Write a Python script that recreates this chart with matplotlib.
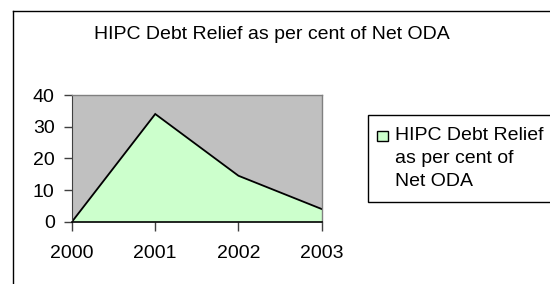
import matplotlib
matplotlib.use("Agg")
import matplotlib.pyplot as plt
from matplotlib.patches import Rectangle
from matplotlib.lines import Line2D

years = ["2000", "2001", "2002", "2003"]
values = [0, 34, 14.5, 4]
yticks = [0, 10, 20, 30, 40]
title = "HIPC Debt Relief as per cent of Net ODA"
legend_lines = ["HIPC Debt Relief", "as per cent of", "Net ODA"]

W, H = 550, 284
plt.rcParams['font.family'] = ['Liberation Sans', 'DejaVu Sans']
fig = plt.figure(figsize=(W / 100, H / 100), dpi=100)

def fx(x):
    return x / W

def fy(y):
    return 1 - y / H

# outer chart border (left and top visible)
fig.add_artist(Line2D([fx(13), fx(13)], [fy(11), fy(290)], color='black', lw=1))
fig.add_artist(Line2D([fx(13), fx(560)], [fy(11), fy(11)], color='black', lw=1))

left, right, top, bottom = 72, 321.7, 95, 221.7
ax = fig.add_axes([fx(left), fy(bottom), fx(right - left), (bottom - top) / H])
ax.set_facecolor('#C0C0C0')
x = list(range(len(years)))
ax.fill_between(x, values, 0, color='#CCFFCC', lw=0)
ax.plot(x, values, color='black', lw=1.3, solid_joinstyle='miter')
ax.set_xlim(0, len(years) - 1)
ax.set_ylim(0, 40)
ax.set_xticks(x)
ax.set_xticklabels(years)
ax.set_yticks(yticks)
ax.tick_params(axis='y', length=6, width=1, pad=6.5, labelsize=14, color='#404040')
ax.tick_params(axis='x', length=6.5, width=1, pad=10.5, labelsize=14, color='#404040')
for s in ['top', 'right']:
    ax.spines[s].set_color('#808080')
    ax.spines[s].set_linewidth(1)
ax.spines['left'].set_color('#404040')
ax.spines['bottom'].set_color('black')
ax.spines['bottom'].set_linewidth(1.2)
ax.spines['bottom'].set_zorder(5)

fig.text(fx(272), fy(35), title, ha='center', va='center', fontsize=14)

# legend
fig.add_artist(Rectangle((fx(368), fy(202)), fx(250), (202 - 115) / H,
                         facecolor='white', edgecolor='black', lw=1))
fig.add_artist(Rectangle((fx(377), fy(141)), fx(11), 10 / H,
                         facecolor='#CCFFCC', edgecolor='black', lw=1))
for i, line in enumerate(legend_lines):
    fig.text(fx(395), fy(139.5 + 23.5 * i), line, ha='left', va='baseline', fontsize=14)

fig.savefig("out.png", dpi=100)
